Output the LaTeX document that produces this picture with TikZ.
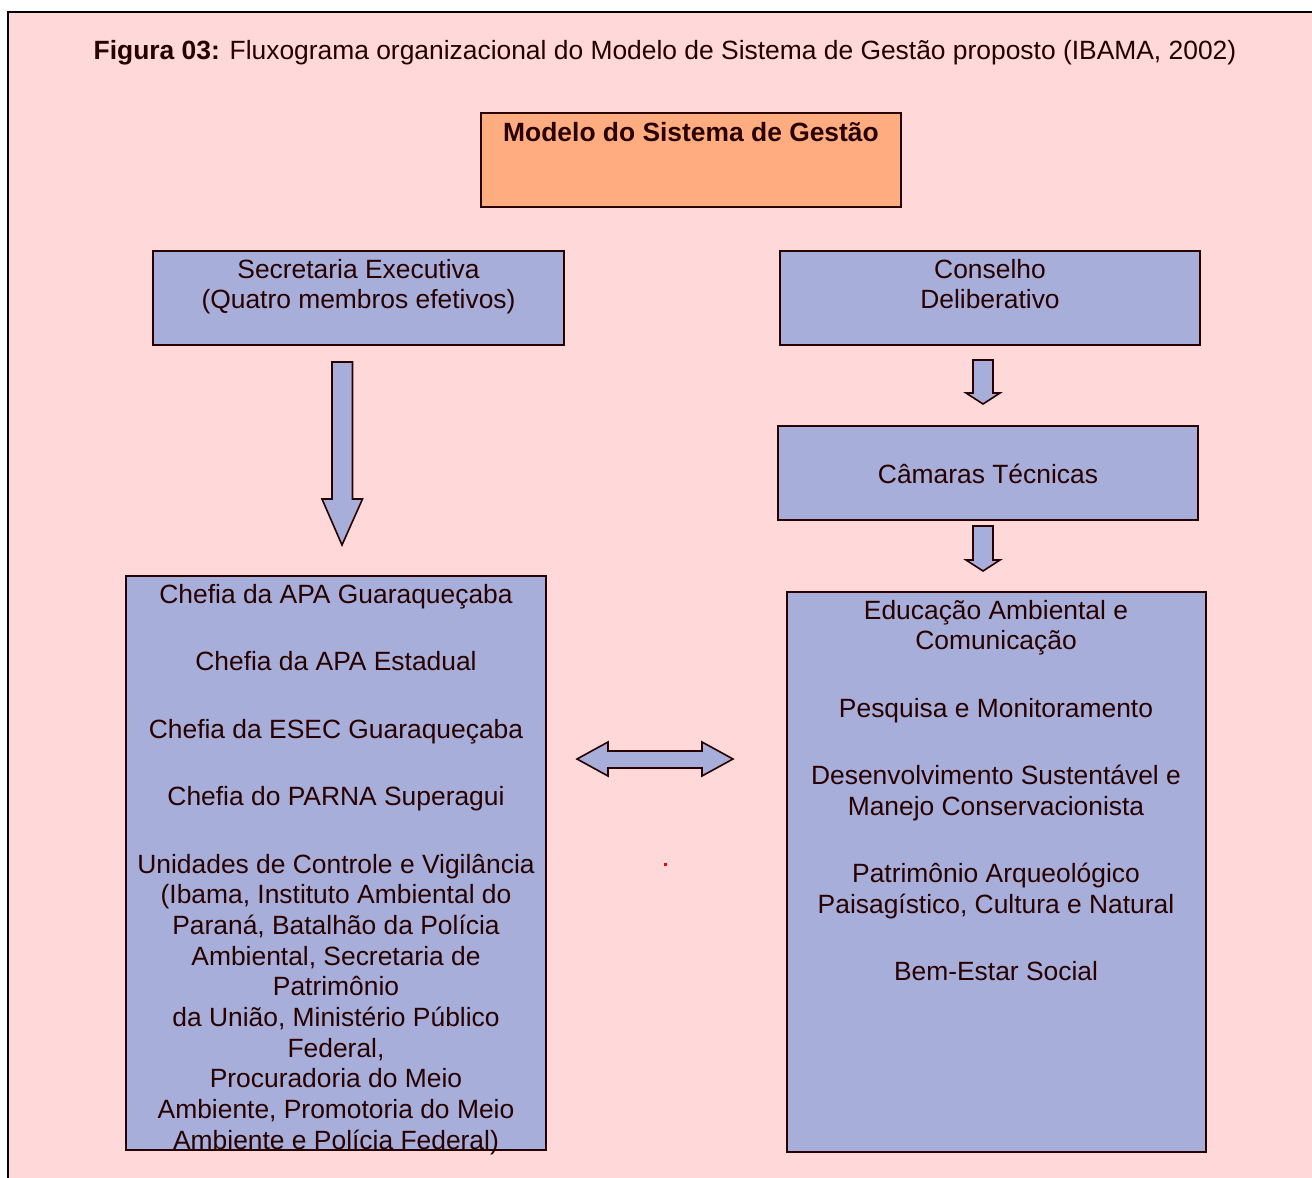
\documentclass[tikz,border=0pt]{standalone}
\usepackage{fontspec}
\setmainfont{Liberation Sans}
\definecolor{pinkbg}{RGB}{255,217,217}
\definecolor{blueb}{RGB}{166,174,217}
\definecolor{orangeb}{RGB}{255,173,128}
\definecolor{ink}{RGB}{40,0,0}
\begin{document}
\begin{tikzpicture}[x=1pt,y=-1pt,
  box/.style={draw=ink,line width=1.3pt,rectangle,inner sep=0pt},
  bluebox/.style={box,fill=blueb},
  txt/.style={inner sep=0pt,anchor=base,text=ink,font=\fontsize{26.4}{30.7}\selectfont},
  blockarrow/.style={draw=ink,fill=blueb,line width=1.6pt,line join=miter}]
\useasboundingbox (0,0) rectangle (1312,1178);
\fill[white] (0,0) rectangle (1312,1178);
\fill[pinkbg] (8,12) rectangle (1312,1178);
\draw[black,line width=2.6pt] (8,1178) -- (8,12) -- (1312,12);
% title
\node[txt,text=black!85!red] (title) at (665,59) {\textbf{Figura 03:} Fluxograma organizacional do Modelo de Sistema de Gestão proposto (IBAMA, 2002)};
% boxes
\node[box,fill=orangeb,minimum width=420pt,minimum height=94pt] (modelo) at (691,160) {};
\node[txt] (modelotxt) at (691,141) {\textbf{Modelo do Sistema de Gestão}};
\node[bluebox,minimum width=411pt,minimum height=94pt] (sec) at (358.5,298) {};
\node[txt] (sec1) at (358.5,278) {Secretaria Executiva};
\node[txt] (sec2) at (358.5,308) {(Quatro membros efetivos)};
\node[bluebox,minimum width=420pt,minimum height=94pt] (cons) at (990,298) {};
\node[txt] (cons1) at (990,278) {Conselho};
\node[txt] (cons2) at (990,308) {Deliberativo};
\node[bluebox,minimum width=420pt,minimum height=94pt] (cam) at (988,473) {};
\node[txt] (cam1) at (988,483) {Câmaras Técnicas};
\node[bluebox,minimum width=420pt,minimum height=574pt] (left) at (336,863) {};
\node[bluebox,minimum width=419pt,minimum height=560pt] (right) at (996.5,872) {};
% left box text
\foreach \y/\t [count=\i] in {603/{Chefia da APA Guaraqueçaba},670/{Chefia da APA Estadual},738/{Chefia da ESEC Guaraqueçaba},805/{Chefia do PARNA Superagui},873/{Unidades de Controle e Vigilância},903/{(Ibama, Instituto Ambiental do},934/{Paraná, Batalhão da Polícia},965/{Ambiental, Secretaria de},995/{Patrimônio},1026/{da União, Ministério Público},1057/{Federal,},1087/{Procuradoria do Meio},1118/{Ambiente, Promotoria do Meio},1149/{Ambiente e Polícia Federal)}}
  \node[txt] (l\i) at (336,\y) {\t};
% right box text
\foreach \y/\t [count=\i] in {619/{Educação Ambiental e},649/{Comunicação},717/{Pesquisa e Monitoramento},784/{Desenvolvimento Sustentável e},815/{Manejo Conservacionista},882/{Patrimônio Arqueológico},913/{Paisagístico, Cultura e Natural},980/{Bem-Estar Social}}
  \node[txt] (r\i) at (996,\y) {\t};
% block arrows
\draw[blockarrow] (332,362) -- (352.5,362) -- (352.5,499) -- (362.5,499) -- (342,545) -- (322,499) -- (332,499) -- cycle;
\draw[blockarrow] (973,360) -- (993,360) -- (993,393) -- (1000,393) -- (983,404) -- (966,393) -- (973,393) -- cycle;
\draw[blockarrow] (973,526) -- (993,526) -- (993,560) -- (1000,560) -- (983,571) -- (966,560) -- (973,560) -- cycle;
\draw[blockarrow] (577,759) -- (608,742) -- (608,751) -- (702,751) -- (702,742) -- (733,759) -- (702,776) -- (702,768) -- (608,768) -- (608,776) -- cycle;
% small red dot
\fill[red] (664,862.5) rectangle (667,865.5);
\end{tikzpicture}
\end{document}
